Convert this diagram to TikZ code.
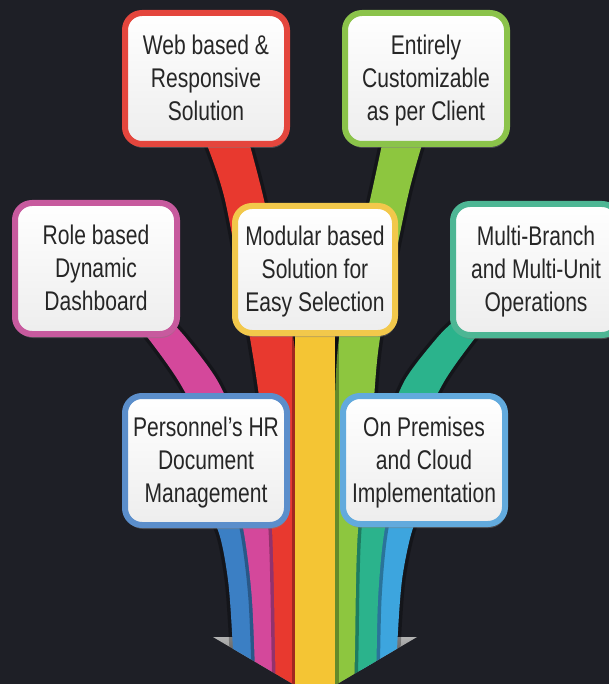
\documentclass[tikz,border=0pt]{standalone}
\usepackage{fontspec}
\setmainfont[FakeStretch=0.78]{Liberation Sans}
\usetikzlibrary{shadows}
\definecolor{bg}{HTML}{1E1F26}
\definecolor{txt}{HTML}{262626}
\definecolor{redR}{HTML}{E8392F}\definecolor{redB}{HTML}{E4463D}
\definecolor{greenR}{HTML}{8DC63F}\definecolor{greenB}{HTML}{8BC34A}
\definecolor{pinkR}{HTML}{D4489B}\definecolor{pinkB}{HTML}{C75A9E}
\definecolor{yelR}{HTML}{F4C534}\definecolor{yelB}{HTML}{F2C84B}
\definecolor{tealR}{HTML}{2BB38C}\definecolor{tealB}{HTML}{4DB694}
\definecolor{blueR}{HTML}{3B7FC4}\definecolor{blueB}{HTML}{5B8ECB}
\definecolor{lblueR}{HTML}{3DA5DE}\definecolor{lblueB}{HTML}{62AADD}
\newcommand\bstrut{\rule[-6pt]{0pt}{31.4pt}}
\tikzset{
  rib/.style={fill=#1, preaction={draw=black, draw opacity=0.3, line width=7pt}},
  box/.style={draw=#1, line width=6pt, rounded corners=17pt,
    top color=white, bottom color=gray!14,
    minimum width=162pt, minimum height=131pt, inner sep=0pt,
    drop shadow={shadow xshift=1pt, shadow yshift=-4pt, opacity=0.45}},
  lbl/.style={align=center, text=txt, inner sep=0pt, font=\fontsize{27}{33}\selectfont,
    execute at begin node=\bstrut, execute at end node=\bstrut, yshift=-2.5pt},
}
\begin{document}
\begin{tikzpicture}[x=1pt,y=-1pt]
\useasboundingbox (0,0) rectangle (609,684);
\clip (0,0) rectangle (609,684);
\fill[bg] (0,0) rectangle (609,684);
% arrow head
\shade[top color=gray!60, bottom color=black!75] (213,637) -- (417,637) -- (315,697) -- cycle;
\begin{scope}
\clip (0,0) -- (609,0) -- (609,637) -- (417,637) -- (315,697) -- (213,637) -- (0,637) -- cycle;
% personnel blue
\fill[rib=blueR] plot[smooth] coordinates {(160,470) (192,498) (217,528) (228,580) (233,650) (235,705)}
  -- plot[smooth] coordinates {(256,705) (255,650) (252,580) (243,528) (228,498) (205,470)} -- cycle;
% light blue
\fill[rib=lblueR] plot[smooth] coordinates {(420,470) (392,498) (370,528) (362,600) (360,705)}
  -- plot[smooth] coordinates {(396,705) (397,650) (402,580) (413,528) (430,498) (455,470)} -- cycle;
% pink
\fill[rib=pinkR] plot[smooth] coordinates {(100,290) (125,312) (148,338) (178,380) (205,430) (228,480) (243,528) (252,600) (256,705)}
  -- plot[smooth] coordinates {(277,705) (275,600) (272,528) (260,480) (240,430) (217,380) (186,338) (162,312) (140,290)} -- cycle;
% teal
\fill[rib=tealR] plot[smooth] coordinates {(475,300) (455,320) (437,338) (405,380) (385,430) (370,480) (357,528) (355,600) (354,705)}
  -- plot[smooth] coordinates {(376,705) (378,600) (385,528) (400,480) (420,430) (445,380) (475,338) (492,320) (510,300)} -- cycle;
% red
\fill[rib=redR] plot[smooth] coordinates {(203,135) (225,200) (250,338) (262,420) (272,530) (275,650) (276,705)}
  -- plot[smooth] coordinates {(306,705) (304,450) (292,330) (264,200) (247,135)} -- cycle;
% green
\fill[rib=greenR] plot[smooth] coordinates {(384,135) (370,200) (340,330) (334,450) (333,705)}
  -- plot[smooth] coordinates {(354,705) (355,650) (358,530) (372,420) (380,338) (407,200) (425,135)} -- cycle;
% yellow
\fill[rib=yelR] (295,320) rectangle (335,705);
\end{scope}
% boxes
\node[box=redB] (web) at (206,78.5) {};
\node[box=greenB] (cust) at (426,78.5) {};
\node[box=pinkB] (role) at (96,268.5) {};
\node[box=yelB, minimum width=160pt, minimum height=127pt] (mod) at (315,269.5) {};
\node[box=tealB, minimum width=166pt] (multi) at (536,269.5) {};
\node[box=blueB, minimum height=129pt] (hr) at (206,460.5) {};
\node[box=lblueB, minimum height=128pt] (prem) at (424,460) {};
% texts
\node[lbl] (webT) at (web.center) {Web based \&\\Responsive\\Solution};
\node[lbl] (custT) at (cust.center) {Entirely\\Customizable\\as per Client};
\node[lbl] (roleT) at (role.center) {Role based\\Dynamic\\Dashboard};
\node[lbl] (modT) at (mod.center) {Modular based\\Solution for\\Easy Selection};
\node[lbl] (multiT) at (multi.center) {Multi-Branch\\and Multi-Unit\\Operations};
\node[lbl] (hrT) at (hr.center) {Personnel’s HR\\Document\\Management};
\node[lbl] (premT) at (prem.center) {On Premises\\and Cloud\\Implementation};
\end{tikzpicture}
\end{document}
